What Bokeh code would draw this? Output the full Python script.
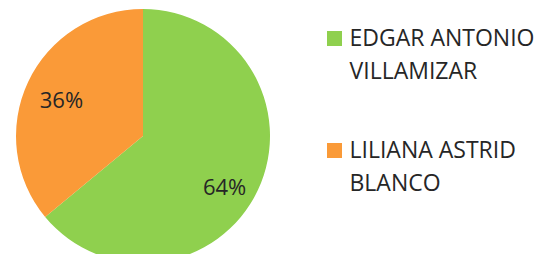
import numpy as np
from bokeh.plotting import figure
from bokeh.models import Range1d, ColumnDataSource
from bokeh.core.properties import value
from bokeh.embed import file_html
from bokeh.resources import INLINE

names = ["EDGAR ANTONIO\nVILLAMIZAR", "LILIANA ASTRID\nBLANCO"]
shares = [64, 36]
colors = ["#8FD04E", "#FA9A38"]

W, H = 541, 254
p = figure(width=W, height=H, output_backend="svg", toolbar_location=None,
           x_range=Range1d(0, 541), y_range=Range1d(8, 262), min_border=0)
p.axis.visible = False
p.grid.visible = False
p.outline_line_color = None
p.background_fill_color = "white"

cx, cy, r = 142.5, 262 - 135.5, 127
vals = np.array(shares, dtype=float)
frac = vals / vals.sum()
ends = [np.pi / 2, np.pi / 2 + 2 * np.pi * frac[1]]
starts = [np.pi / 2 - 2 * np.pi * frac[0], np.pi / 2]
mids = [(s + e) / 2 for s, e in zip(starts, ends)]
src = ColumnDataSource(dict(start=starts, end=ends, color=colors,
                            lx=[cx + 0.71 * r * np.cos(m) for m in mids],
                            ly=[cy + 0.71 * r * np.sin(m) for m in mids],
                            yo=[12, 1],
                            lab=[f"{int(v)}%" for v in shares]))
p.wedge(x=cx, y=cy, radius=r, start_angle="start", end_angle="end",
        fill_color="color", line_color=None, source=src)
p.text(x="lx", y="ly", text="lab", source=src, text_align="center",
       y_offset="yo",
       text_baseline="middle", text_font=value("Open Sans"),
       text_font_size="22px", text_color="#262626")

# legend
leg_y = [262 - 38, 262 - 150]
p.rect(x=[334] * 2, y=leg_y, width=15, height=15,
       fill_color=colors, line_color=None)
p.text(x=[349] * 2, y=[y + 18 for y in leg_y], text=names,
       text_align="left", text_baseline="top", text_font=value("Open Sans"),
       text_font_size="23px", text_color="#262626", text_line_height=1.05)

open("out.html", "w").write(file_html(p, INLINE))
